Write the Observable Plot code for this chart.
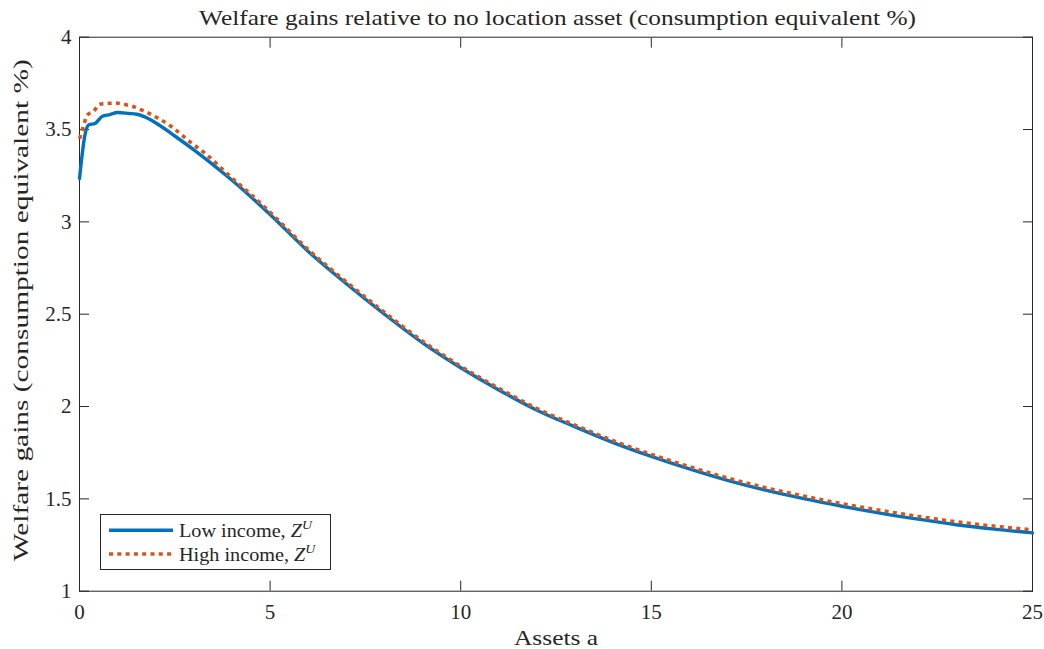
<!DOCTYPE html>
<html>
<head>
<meta charset="utf-8">
<script src="https://cdn.jsdelivr.net/npm/d3@7"></script>
<script src="https://cdn.jsdelivr.net/npm/@observablehq/plot@0.6"></script>
<style>
  html, body { margin: 0; padding: 0; background: #fff; }
  #wrap { position: relative; width: 1044px; height: 649px; font-family: "Liberation Serif", "DejaVu Serif", serif; color: #262626; }
  #title { position: absolute; left: 0; top: 0; }
  #chart { position: absolute; left: 0; top: 30px; }
  #legend { position: absolute; left: 100px; top: 514px; }
</style>
</head>
<body>
<div id="wrap">
  <svg id="title" width="1044" height="30"></svg>
  <div id="chart"></div>
  <svg id="legend" width="231" height="57"></svg>
</div>
<script>
// ---- data ----
const titleText = "Welfare gains relative to no location asset (consumption equivalent %)";
const xLabel = "Assets a";
const yLabel = "Welfare gains (consumption equivalent %)";
const xTicks = [0, 5, 10, 15, 20, 25];
const yTicks = [1, 1.5, 2, 2.5, 3, 3.5, 4];
const seriesNames = ["Low income", "High income"];

const assetsLow = [0, 0.15, 0.25, 0.4, 0.6, 0.8, 1.0, 1.3, 1.5, 1.8, 2.1, 2.5, 3, 3.5, 4, 4.5, 5, 6, 7, 8, 9, 10, 11, 12, 13, 14, 15, 16, 17, 18, 19, 20, 21, 22, 23, 24, 25];
const lowIncome = [3.235, 3.478, 3.527, 3.532, 3.572, 3.581, 3.592, 3.587, 3.583, 3.56, 3.523, 3.465, 3.39, 3.31, 3.225, 3.135, 3.04, 2.84, 2.665, 2.5, 2.345, 2.21, 2.09, 1.98, 1.89, 1.805, 1.73, 1.662, 1.600, 1.547, 1.501, 1.460, 1.423, 1.390, 1.360, 1.336, 1.316];

const assetsHigh = [0, 0.07, 0.13, 0.2, 0.375, 0.53, 0.74, 0.95, 1.16, 1.38, 1.6, 1.8, 2.0, 2.4, 2.9, 3.3, 4, 4.5, 5, 6, 7, 8, 9, 10, 11, 12, 13, 14, 15, 16, 17, 18, 19, 20, 21, 22, 23, 24, 25];
const highIncome = [3.45, 3.496, 3.538, 3.578, 3.60, 3.637, 3.641, 3.644, 3.637, 3.626, 3.608, 3.59, 3.568, 3.518, 3.433, 3.37, 3.237, 3.148, 3.052, 2.85, 2.675, 2.51, 2.354, 2.218, 2.099, 1.989, 1.899, 1.815, 1.741, 1.674, 1.613, 1.560, 1.515, 1.474, 1.438, 1.405, 1.376, 1.352, 1.332];

const colors = ["#0072BD", "#D95319"];

const low = assetsLow.map((a, i) => ({a, v: lowIncome[i]}));
const high = assetsHigh.map((a, i) => ({a, v: highIncome[i]}));

const axisColor = "#262626";
const font = "Liberation Serif, DejaVu Serif, serif";

// title
d3.select("#title").append("text")
  .attr("x", 557.5).attr("y", 25)
  .attr("text-anchor", "middle")
  .attr("font-family", font).attr("font-size", 22).attr("fill", axisColor)
  .attr("textLength", 717).attr("lengthAdjust", "spacingAndGlyphs")
  .text(titleText);

const chart = Plot.plot({
  width: 1044,
  height: 619,
  marginTop: 6.7,
  marginBottom: 58.3,
  marginLeft: 79,
  marginRight: 12,
  style: { fontFamily: font, fontSize: "21px", color: axisColor, background: "transparent", overflow: "visible" },
  x: { domain: [0, 25] },
  y: { domain: [1, 4] },
  marks: [
    Plot.frame({ stroke: axisColor, strokeWidth: 1 }),
    Plot.axisX({ anchor: "bottom", ticks: xTicks, tickSize: 0, tickPadding: 13, label: null, fontSize: 21, fill: axisColor }),
    Plot.axisX({ anchor: "bottom", ticks: xTicks, tickSize: -10, tickFormat: () => "", label: null, stroke: axisColor }),
    Plot.axisX({ anchor: "top", ticks: xTicks, tickSize: -10, tickFormat: () => "", label: null, stroke: axisColor }),
    Plot.axisY({ anchor: "left", ticks: yTicks, tickSize: 0, tickPadding: 8, label: null, fontSize: 21, fill: axisColor, tickFormat: d => String(d) }),
    Plot.axisY({ anchor: "left", ticks: yTicks, tickSize: -10, tickFormat: () => "", label: null, stroke: axisColor }),
    Plot.axisY({ anchor: "right", ticks: yTicks, tickSize: -10, tickFormat: () => "", label: null, stroke: axisColor }),
    Plot.line(low, { x: "a", y: "v", stroke: colors[0], strokeWidth: 3.4, curve: "monotone-x" }),
    Plot.line(high, { x: "a", y: "v", stroke: colors[1], strokeWidth: 3.6, strokeDasharray: "4,4.3", strokeLinecap: "butt", curve: "monotone-x" }),
    Plot.text([xLabel], { frameAnchor: "bottom", dy: 54, fontSize: 22, fill: axisColor, text: d => d, textAnchor: "middle" }),
    Plot.text([yLabel], { frameAnchor: "left", dx: -59, dy: -4, rotate: -90, fontSize: 22, fill: axisColor, text: d => d, textAnchor: "middle" })
  ]
});
document.getElementById("chart").appendChild(chart);

// tick label size and stretched serif labels to mimic the wider original face
d3.select(chart).selectAll("g[aria-label$='tick label']").attr("font-size", 21);
d3.select(chart).selectAll("text").each(function () {
  const t = this.textContent;
  if (t === xLabel) d3.select(this).attr("textLength", 84).attr("lengthAdjust", "spacingAndGlyphs");
  if (t === yLabel) d3.select(this).attr("textLength", 502).attr("lengthAdjust", "spacingAndGlyphs");
});

// legend
const lg = d3.select("#legend");
lg.append("rect").attr("x", 0.5).attr("y", 0.5).attr("width", 230).attr("height", 55)
  .attr("fill", "#fff").attr("stroke", axisColor).attr("stroke-width", 1);
seriesNames.forEach((name, i) => {
  const cy = i === 0 ? 16.3 : 40;
  lg.append("line").attr("x1", 9).attr("x2", 73).attr("y1", cy).attr("y2", cy)
    .attr("stroke", colors[i]).attr("stroke-width", i === 0 ? 3.4 : 3.6)
    .attr("stroke-dasharray", i === 0 ? null : "4,4.3");
  const g = lg.append("g").attr("transform", `translate(79,${cy + 6.5}) scale(1.065,1)`);
  const tx = g.append("text").attr("font-family", font).attr("font-size", 19).attr("fill", axisColor);
  tx.append("tspan").text(name + ", ");
  tx.append("tspan").attr("font-style", "italic").text("Z");
  tx.append("tspan").attr("font-style", "italic").attr("font-size", 13).attr("dy", -8).text("U");
});
</script>
</body>
</html>
